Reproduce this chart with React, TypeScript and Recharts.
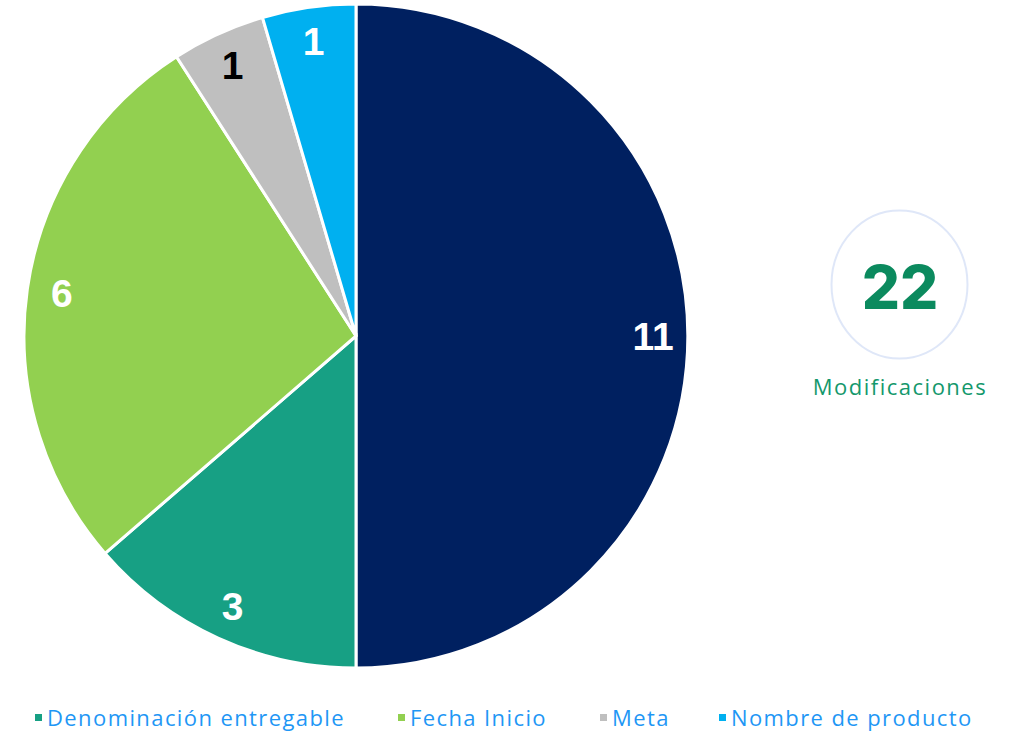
import { Cell, Legend, Pie, PieChart } from 'recharts';

const categories = ['Otros', 'Denominación entregable', 'Fecha Inicio', 'Meta', 'Nombre de producto'];
const values = [11, 3, 6, 1, 1];
const colors = ['#002060', '#17A084', '#92D050', '#BFBFBF', '#00B0F0'];
const labelColors = ['#ffffff', '#ffffff', '#ffffff', '#000000', '#ffffff'];
const legendNames = ['Denominación entregable', 'Fecha Inicio', 'Meta', 'Nombre de producto'];

const data = categories.map((name, i) => ({ name, value: values[i] }));
const total = values.reduce((a, b) => a + b, 0);

const RADIAN = Math.PI / 180;

function renderLabel(props: any) {
  const { cx, cy, midAngle, outerRadius, index, value } = props;
  const r = outerRadius * 0.895;
  const x = cx + r * Math.cos(-midAngle * RADIAN);
  const y = cy + r * Math.sin(-midAngle * RADIAN);
  return (
    <text
      x={x}
      y={y}
      fill={labelColors[index]}
      textAnchor="middle"
      dominantBaseline="central"
      fontFamily="Liberation Sans, Arial, sans-serif"
      fontWeight={700}
      fontSize={39}
    >
      {value}
    </text>
  );
}

function renderLegend() {
  const lefts = [35, 398, 600, 719];
  return (
    <div style={{ position: 'relative', height: 30, fontFamily: 'Open Sans, sans-serif' }}>
      {legendNames.map((name, i) => (
        <div
          key={name}
          style={{
            position: 'absolute',
            left: lefts[i],
            top: 0,
            display: 'flex',
            alignItems: 'center',
            fontSize: 22,
            letterSpacing: 1.4,
            color: '#1F97F5',
            whiteSpace: 'nowrap',
          }}
        >
          <span
            style={{
              display: 'inline-block',
              width: 7,
              height: 7,
              background: colors[categories.indexOf(name)],
              marginRight: 5,
            }}
          />
          {name}
        </div>
      ))}
    </div>
  );
}

export default function App() {
  return (
    <div style={{ position: 'absolute', left: 0, top: 0, width: 1015, height: 732, background: '#fff' }}>
      <PieChart width={1015} height={732}>
        <Pie
          data={data}
          dataKey="value"
          nameKey="name"
          cx={351}
          cy={331}
          outerRadius={332}
          startAngle={90}
          endAngle={-270}
          stroke="#ffffff"
          strokeWidth={3}
          label={renderLabel}
          labelLine={false}
          isAnimationActive={false}
        >
          {data.map((d, i) => (
            <Cell key={d.name} fill={colors[i]} />
          ))}
        </Pie>
        <Legend
          content={renderLegend}
          wrapperStyle={{ left: 0, top: 702, width: 1015 }}
        />
      </PieChart>
      <svg
        width={215}
        height={220}
        style={{ position: 'absolute', left: 800, top: 200 }}
      >
        <ellipse cx={99.5} cy={84.5} rx={68} ry={74} fill="none" stroke="#DFE7F8" strokeWidth={2} />
        <text
          x={100}
          y={87}
          textAnchor="middle"
          dominantBaseline="central"
          fill="#0B8A5E"
          fontFamily="Inter, sans-serif"
          fontWeight={800}
          fontSize={60}
        >
          {total}
        </text>
        <text
          x={100}
          y={186}
          textAnchor="middle"
          dominantBaseline="central"
          fill="#14986C"
          fontFamily="Open Sans, sans-serif"
          fontSize={22}
          letterSpacing={1.5}
        >
          Modificaciones
        </text>
      </svg>
    </div>
  );
}
